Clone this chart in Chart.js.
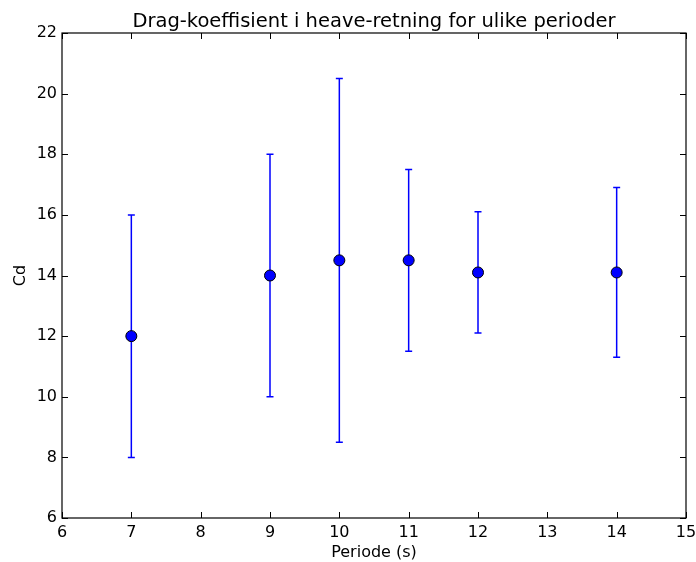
<!DOCTYPE html>
<html>
<head>
<meta charset="utf-8">
<script src="https://cdn.jsdelivr.net/npm/chart.js@4.4.0/dist/chart.umd.min.js"></script>
<style>
  html, body { margin: 0; padding: 0; background: #fff; }
  canvas { display: block; }
</style>
</head>
<body>
<canvas id="dragChart" width="696" height="562"></canvas>
<script>
// Periods (s) and drag coefficient with error bar limits
const periods = [7, 9, 10, 11, 12, 14];
const cdValues = [12, 14, 14.5, 14.5, 14.1, 14.1];
const cdLower = [8, 10, 8.5, 11.5, 12.1, 11.3];
const cdUpper = [16, 18, 20.5, 17.5, 16.1, 16.9];

const xTicks = [6, 7, 8, 9, 10, 11, 12, 13, 14, 15];
const yTicks = [6, 8, 10, 12, 14, 16, 18, 20, 22];

const FONT = "'DejaVu Sans', sans-serif";

// Draw vertical error bars with caps under the markers
const errorBarPlugin = {
    id: 'errorBars',
    beforeDatasetsDraw(chart) {
        const ctx = chart.ctx;
        const x = chart.scales.x;
        const y = chart.scales.y;
        ctx.save();
        ctx.strokeStyle = '#0000ff';
        ctx.lineWidth = 1.5;
        periods.forEach((p, i) => {
            const px = x.getPixelForValue(p);
            const top = y.getPixelForValue(cdUpper[i]);
            const bottom = y.getPixelForValue(cdLower[i]);
            ctx.beginPath();
            ctx.moveTo(px, top);
            ctx.lineTo(px, bottom);
            ctx.moveTo(px - 3.5, top);
            ctx.lineTo(px + 3.5, top);
            ctx.moveTo(px - 3.5, bottom);
            ctx.lineTo(px + 3.5, bottom);
            ctx.stroke();
        });
        ctx.restore();
    }
};

// Matplotlib-style frame: full box, inward ticks on all four sides, title
const framePlugin = {
    id: 'frame',
    afterDraw(chart) {
        const ctx = chart.ctx;
        const area = chart.chartArea;
        const x = chart.scales.x;
        const y = chart.scales.y;
        const len = 6;
        ctx.save();
        ctx.strokeStyle = '#000';
        ctx.lineWidth = 1;
        ctx.beginPath();
        xTicks.forEach(v => {
            const px = Math.round(x.getPixelForValue(v)) + 0.5;
            ctx.moveTo(px, area.bottom);
            ctx.lineTo(px, area.bottom - len);
            ctx.moveTo(px, area.top);
            ctx.lineTo(px, area.top + len);
        });
        yTicks.forEach(v => {
            const py = Math.round(y.getPixelForValue(v)) + 0.5;
            ctx.moveTo(area.left, py);
            ctx.lineTo(area.left + len, py);
            ctx.moveTo(area.right, py);
            ctx.lineTo(area.right - len, py);
        });
        ctx.stroke();
        ctx.lineWidth = 1.2;
        ctx.strokeRect(area.left, area.top, area.right - area.left, area.bottom - area.top);

        ctx.fillStyle = '#000';
        ctx.font = '19.5px ' + FONT;
        ctx.textAlign = 'center';
        ctx.textBaseline = 'alphabetic';
        ctx.fillText('Drag-koeffisient i heave-retning for ulike perioder',
            (area.left + area.right) / 2, 27);
        ctx.restore();
    }
};

new Chart(document.getElementById('dragChart'), {
    type: 'scatter',
    data: {
        datasets: [{
            label: 'Cd',
            data: periods.map((p, i) => ({ x: p, y: cdValues[i] })),
            backgroundColor: '#0000ff',
            borderColor: '#000',
            borderWidth: 1,
            pointRadius: 5.5,
            pointHoverRadius: 5.5
        }]
    },
    options: {
        responsive: false,
        animation: false,
        layout: {
            padding: { top: 33, right: 10, left: 0, bottom: 0 }
        },
        plugins: {
            legend: { display: false },
            tooltip: { enabled: false },
            title: { display: false }
        },
        scales: {
            x: {
                type: 'linear',
                min: 6,
                max: 15,
                afterBuildTicks: axis => { axis.ticks = xTicks.map(v => ({ value: v })); },
                afterFit: axis => {
                    axis.height = 44;
                    axis.paddingLeft = 0;
                    axis.paddingRight = 0;
                },
                grid: { display: false, drawTicks: false },
                border: { display: false },
                ticks: {
                    color: '#000',
                    padding: 5,
                    maxRotation: 0,
                    autoSkip: false,
                    font: { family: FONT, size: 16 }
                },
                title: {
                    display: true,
                    text: 'Periode (s)',
                    color: '#000',
                    padding: 0,
                    font: { family: FONT, size: 16 }
                }
            },
            y: {
                type: 'linear',
                min: 6,
                max: 22,
                afterBuildTicks: axis => { axis.ticks = yTicks.map(v => ({ value: v })); },
                afterFit: axis => {
                    axis.width = 62;
                    axis.paddingTop = 0;
                    axis.paddingBottom = 0;
                },
                grid: { display: false, drawTicks: false },
                border: { display: false },
                ticks: {
                    color: '#000',
                    padding: 5,
                    autoSkip: false,
                    font: { family: FONT, size: 16 }
                },
                title: {
                    display: true,
                    text: 'Cd',
                    color: '#000',
                    padding: { top: 11, bottom: 0 },
                    font: { family: FONT, size: 16 }
                }
            }
        }
    },
    plugins: [errorBarPlugin, framePlugin]
});
</script>
</body>
</html>
